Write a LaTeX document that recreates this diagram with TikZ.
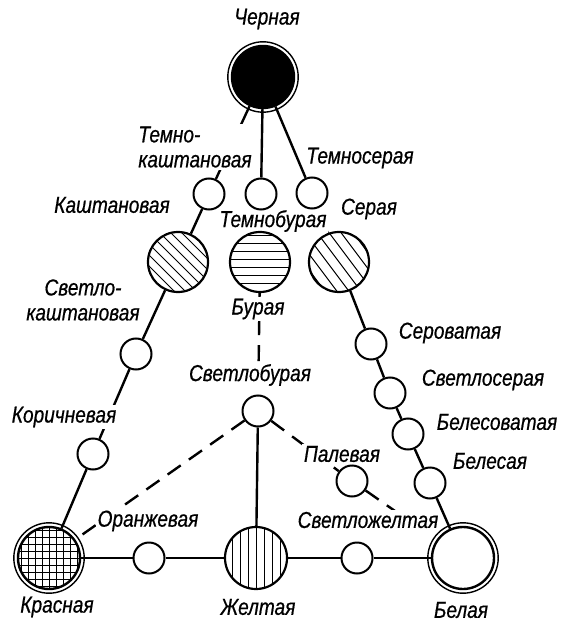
\documentclass[tikz,border=0pt]{standalone}
\usepackage{fontspec}
\usetikzlibrary{backgrounds}
\newfontfamily\lblfont[FakeStretch=0.83, FakeBold=0.6]{Liberation Sans}

\begin{document}
\begin{tikzpicture}[x=0.5pt, y=-0.5pt,
    lbl/.style={font={\lblfont\itshape\fontsize{11.5}{12.5}\selectfont}, fill=white, inner sep=1pt},
    dot/.style={circle, draw, line width=1pt, fill=white, minimum size=15.5pt, inner sep=0pt},
    disc/.style={circle, draw, line width=1.1pt, fill=white, minimum size=30pt, inner sep=0pt},
    ring/.style={circle, draw, line width=1.2pt, fill=white, minimum size=31pt, inner sep=0pt},
    outring/.style={line width=0.7pt},
    hatch/.style={line width=0.5pt},
    slant/.style={path picture={\foreach \d in {-44,-33,...,44}
        \draw[hatch] ([shift={(\d-40,-40)}]path picture bounding box.center) -- ++(80,80);}},
    steep/.style={path picture={\foreach \d in {-48,-36,...,48}
        \draw[hatch] ([shift={(\d-45,-60)}]path picture bounding box.center) -- ++(90,120);}},
    hlines/.style={path picture={\foreach \d in {-26,-18,...,26}
        \draw[hatch] ([shift={(-40,\d)}]path picture bounding box.center) -- ++(80,0);}},
    vlines/.style={path picture={\foreach \d in {-24,-16,...,24}
        \draw[hatch] ([shift={(\d,-40)}]path picture bounding box.center) -- ++(0,80);}},
    grid/.style={path picture={\foreach \d in {-28,-21,...,28} {
        \draw[hatch] ([shift={(\d,-40)}]path picture bounding box.center) -- ++(0,80);
        \draw[hatch] ([shift={(-40,\d)}]path picture bounding box.center) -- ++(80,0);}}},
    link/.style={line width=1.2pt},
    dlink/.style={link, dash pattern=on 8pt off 5pt},
  ]
  \useasboundingbox (0,0) rectangle (564,624);

  % labels
  \node[lbl] (lcher) at (267,19) {Черная};
  \node[lbl, align=left] (ltk) at (195,147) {Темно-\\каштановая};
  \node[lbl] (lts) at (360,158) {Темносерая};
  \node[lbl] (lkasht) at (112,205) {Каштановая};
  \node[lbl] (ltb) at (273,221) {Темнобурая};
  \node[lbl] (lser) at (369,209) {Серая};
  \node[lbl, align=center] (lskasht) at (83,300) {Светло-\\каштановая};
  \node[lbl] (lbur) at (258,309) {Бурая};
  \node[lbl] (lserov) at (450,333) {Сероватая};
  \node[lbl] (lsvbur) at (250,375) {Светлобурая};
  \node[lbl] (lsvser) at (483,380) {Светлосерая};
  \node[lbl] (lkorich) at (64,417) {Коричневая};
  \node[lbl] (lbelesov) at (497,422) {Белесоватая};
  \node[lbl] (lpal) at (342,454) {Палевая};
  \node[lbl] (lbeles) at (490,461) {Белесая};
  \node[lbl] (loranzh) at (148,521) {Оранжевая};
  \node[lbl] (lsvzh) at (368,520) {Светложелтая};
  \node[lbl] (lkras) at (57,607) {Красная};
  \node[lbl] (lzhelt) at (258,607) {Желтая};
  \node[lbl] (lbel) at (461,610) {Белая};

  % circles
  \node[ring, fill=black] (cher) at (263,77) {};
  \node[dot] (tk) at (209,194) {};
  \node[dot] (tb) at (261,194) {};
  \node[dot] (ts) at (312,193) {};
  \node[disc, slant] (kasht) at (178,262) {};
  \node[disc, hlines] (bur) at (260,262) {};
  \node[disc, steep] (ser) at (339,262) {};
  \node[dot] (skasht) at (136,354) {};
  \node[dot] (korich) at (93,454) {};
  \node[dot] (serov) at (371,344) {};
  \node[dot] (svser) at (390,393) {};
  \node[dot] (belesov) at (408,434) {};
  \node[dot] (beles) at (430,483) {};
  \node[dot] (svbur) at (258,411) {};
  \node[dot] (pal) at (352,481) {};
  \node[ring, grid] (kras) at (49,558) {};
  \node[dot] (oranzh) at (149,558) {};
  \node[disc, minimum size=31pt, vlines] (zhelt) at (256,558) {};
  \node[dot] (svzh) at (357,558) {};
  \node[ring] (bel) at (463,558) {};
  \coordinate (palend) at (395,511);

  \foreach \n in {cher,kras,bel}
    \draw[outring] (\n.center) circle[radius=17.6pt];

  \begin{scope}[on background layer]
    \draw[link] (cher) -- (tk);
    \draw[link] (cher) -- (tb);
    \draw[link] (cher) -- (ts);
    \draw[link] (tk) -- (kasht);
    \draw[link] (ts) -- (ser);
    \draw[link] (kasht) -- (skasht) -- (korich) -- (kras);
    \draw[link] (kras) -- (oranzh) -- (zhelt) -- (svzh) -- (bel);
    \draw[link] (ser) -- (serov) -- (svser) -- (belesov) -- (beles) -- (bel);
    \draw[link] (svbur) -- (zhelt);
    \draw[dlink] (bur) -- (svbur);
    \draw[dlink] (svbur) -- (kras);
    \draw[dlink] (svbur) -- (pal);
    \draw[dlink] (pal) -- (palend);
  \end{scope}
\end{tikzpicture}
\end{document}
